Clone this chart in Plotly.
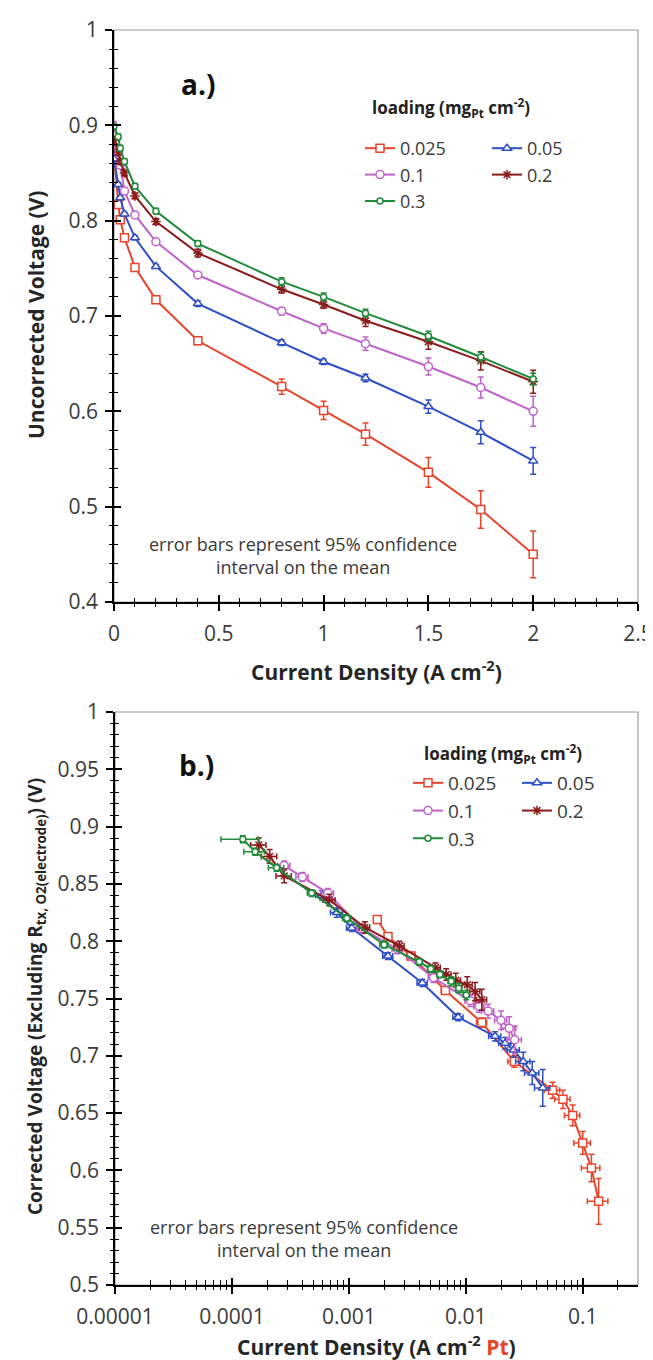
import plotly.graph_objects as go

# ---------------- data: panel a (uncorrected voltage vs geometric current density)
current_a = [0, 0.02, 0.03, 0.05, 0.1, 0.2, 0.4, 0.8, 1.0, 1.2, 1.5, 1.75, 2.0]
v_a_0025 = [0.874, 0.817, 0.801, 0.782, 0.751, 0.717, 0.674, 0.626, 0.601, 0.576, 0.536, 0.497, 0.450]
v_a_005 = [0.865, 0.838, 0.824, 0.807, 0.782, 0.752, 0.713, 0.672, 0.652, 0.635, 0.605, 0.578, 0.548]
v_a_01 = [0.889, 0.872, 0.858, 0.831, 0.806, 0.778, 0.743, 0.705, 0.687, 0.671, 0.647, 0.625, 0.600]
v_a_02 = [0.884, 0.872, 0.862, 0.850, 0.826, 0.799, 0.766, 0.728, 0.712, 0.695, 0.673, 0.653, 0.631]
v_a_03 = [0.899, 0.888, 0.876, 0.862, 0.836, 0.810, 0.776, 0.736, 0.720, 0.703, 0.679, 0.657, 0.634]
err_a_0025 = [0.004, 0.003, 0.003, 0.003, 0.003, 0.003, 0.004, 0.008, 0.0096, 0.0117, 0.0157, 0.0196, 0.0245]
err_a_005 = [0.003, 0.002, 0.002, 0.002, 0.002, 0.002, 0.003, 0.003, 0.003, 0.004, 0.007, 0.012, 0.014]
err_a_01 = [0.015, 0.003, 0.003, 0.003, 0.003, 0.003, 0.003, 0.004, 0.005, 0.007, 0.009, 0.011, 0.0157]
err_a_02 = [0.004, 0.003, 0.003, 0.003, 0.003, 0.003, 0.004, 0.004, 0.004, 0.006, 0.008, 0.0096, 0.012]
err_a_03 = [0.003, 0.003, 0.003, 0.003, 0.003, 0.003, 0.003, 0.004, 0.004, 0.004, 0.005, 0.005, 0.006]

# ---------------- data: panel b (corrected voltage vs Pt-specific current density)
x_b_0025 = [1.75e-3, 2.16e-3, 3.4e-3, 6.7e-3, 0.0137, 0.0260, 0.0552, 0.0677, 0.082, 0.100, 0.1187, 0.1368]
v_b_0025 = [0.819, 0.804, 0.787, 0.757, 0.729, 0.695, 0.670, 0.662, 0.648, 0.624, 0.602, 0.573]
x_b_005 = [5.9e-4, 7.9e-4, 1.06e-3, 2.16e-3, 4.25e-3, 8.6e-3, 0.0178, 0.0217, 0.0256, 0.0310, 0.0370, 0.0455]
v_b_005 = [0.840, 0.825, 0.8115, 0.787, 0.7635, 0.7336, 0.717, 0.711, 0.705, 0.695, 0.685, 0.672]
x_b_01 = [2.8e-4, 4.0e-4, 6.6e-4, 1.3e-3, 2.6e-3, 5.3e-3, 0.0109, 0.0130, 0.0155, 0.0200, 0.0235, 0.0262]
v_b_01 = [0.866, 0.856, 0.842, 0.811, 0.793, 0.768, 0.748, 0.743, 0.739, 0.731, 0.724, 0.714]
x_b_02 = [1.7e-4, 2.1e-4, 2.8e-4, 6.8e-4, 1.37e-3, 2.7e-3, 5.5e-3, 6.8e-3, 8.2e-3, 0.0103, 0.0120, 0.0137]
v_b_02 = [0.884, 0.874, 0.857, 0.836, 0.812, 0.796, 0.777, 0.771, 0.766, 0.762, 0.756, 0.749]
x_b_03 = [1.24e-4, 1.58e-4, 2.41e-4, 4.8e-4, 9.6e-4, 2.0e-3, 4.0e-3, 5.0e-3, 6.0e-3, 7.5e-3, 8.7e-3, 0.0101]
v_b_03 = [0.889, 0.878, 0.864, 0.842, 0.820, 0.797, 0.782, 0.776, 0.771, 0.765, 0.759, 0.753]
# vertical error (V)
ey_b_0025 = [0.003, 0.003, 0.003, 0.003, 0.004, 0.005, 0.007, 0.008, 0.009, 0.010, 0.012, 0.020]
ey_b_005 = [0.004, 0.004, 0.003, 0.003, 0.003, 0.003, 0.004, 0.005, 0.006, 0.008, 0.010, 0.016]
ey_b_01 = [0.004, 0.004, 0.004, 0.004, 0.004, 0.004, 0.005, 0.005, 0.006, 0.008, 0.010, 0.012]
ey_b_02 = [0.006, 0.006, 0.006, 0.005, 0.005, 0.004, 0.004, 0.005, 0.006, 0.007, 0.008, 0.009]
ey_b_03 = [0.003, 0.003, 0.003, 0.003, 0.003, 0.003, 0.003, 0.003, 0.003, 0.004, 0.004, 0.004]
# horizontal error, as a fraction of the current density
exf_b_0025 = [0.06, 0.06, 0.08, 0.08, 0.10, 0.12, 0.15, 0.15, 0.15, 0.16, 0.18, 0.20]
exf_b_005 = [0.12, 0.12, 0.10, 0.10, 0.10, 0.10, 0.12, 0.12, 0.12, 0.14, 0.14, 0.15]
exf_b_01 = [0.12, 0.12, 0.12, 0.10, 0.10, 0.10, 0.10, 0.10, 0.12, 0.12, 0.14, 0.14]
exf_b_02 = [0.15, 0.15, 0.15, 0.12, 0.10, 0.10, 0.10, 0.10, 0.10, 0.10, 0.10, 0.10]
exf_b_03 = [0.35, 0.20, 0.15, 0.08, 0.08, 0.08, 0.06, 0.06, 0.06, 0.06, 0.06, 0.06]

loadings = ["0.025", "0.05", "0.1", "0.2", "0.3"]
x_ticks_a = [0, 0.5, 1, 1.5, 2, 2.5]
x_ticktext_a = ["0", "0.5", "1", "1.5", "2", "2.5"]
y_ticks_a = [0.4, 0.5, 0.6, 0.7, 0.8, 0.9, 1.0]
y_ticktext_a = ["0.4", "0.5", "0.6", "0.7", "0.8", "0.9", "1"]
x_ticks_b = [1e-5, 1e-4, 1e-3, 1e-2, 1e-1]
x_ticktext_b = ["0.00001", "0.0001", "0.001", "0.01", "0.1"]
y_ticks_b = [0.5, 0.55, 0.6, 0.65, 0.7, 0.75, 0.8, 0.85, 0.9, 0.95, 1.0]
y_ticktext_b = ["0.5", "0.55", "0.6", "0.65", "0.7", "0.75", "0.8", "0.85", "0.9", "0.95", "1"]

# ---------------- styling
F = "Open Sans"
W, H = 653, 1360
TICKC = "#3a3a3a"
TITLEC = "#262626"
RED, BLUE, PINK, BROWN, GREEN = "#E8442C", "#2F4EC4", "#C062C8", "#8B1C1C", "#1F8B3A"
colors = [RED, BLUE, PINK, BROWN, GREEN]
symbols = ["square", "triangle-up", "circle", "asterisk-open", "circle"]
mfill = ["white", "white", "white", BROWN, "white"]
msizes = [8, 8, 8, 8, 6]
mlw = [1.5, 1.5, 1.5, 1.5, 1.5]


def px(x):
    return x / W


def py(y):
    return 1 - y / H


fig = go.Figure()

series_a = [v_a_0025, v_a_005, v_a_01, v_a_02, v_a_03]
errs_a = [err_a_0025, err_a_005, err_a_01, err_a_02, err_a_03]
leg_a = ["legend", "legend2", "legend", "legend2", "legend"]
for i in range(5):
    fig.add_trace(go.Scatter(
        x=current_a, y=series_a[i], name=loadings[i], mode="lines+markers",
        xaxis="x", yaxis="y", legend=leg_a[i],
        line=dict(color=colors[i], width=2),
        marker=dict(symbol=symbols[i], size=msizes[i], color=mfill[i],
                    line=dict(color=colors[i], width=mlw[i])),
        error_y=dict(type="data", array=errs_a[i], color=colors[i], thickness=1.5, width=3),
    ))

xs_b = [x_b_0025, x_b_005, x_b_01, x_b_02, x_b_03]
vs_b = [v_b_0025, v_b_005, v_b_01, v_b_02, v_b_03]
eys_b = [ey_b_0025, ey_b_005, ey_b_01, ey_b_02, ey_b_03]
exfs_b = [exf_b_0025, exf_b_005, exf_b_01, exf_b_02, exf_b_03]
leg_b = ["legend3", "legend4", "legend3", "legend4", "legend3"]
for i in range(5):
    fig.add_trace(go.Scatter(
        x=xs_b[i], y=vs_b[i], name=loadings[i], mode="lines+markers",
        xaxis="x2", yaxis="y2", legend=leg_b[i],
        line=dict(color=colors[i], width=2),
        marker=dict(symbol=symbols[i], size=msizes[i], color=mfill[i],
                    line=dict(color=colors[i], width=mlw[i])),
        error_y=dict(type="data", array=eys_b[i], color=colors[i], thickness=1.5, width=3),
        error_x=dict(type="data", array=[f * x for f, x in zip(exfs_b[i], xs_b[i])],
                     color=colors[i], thickness=1.5, width=3),
    ))

# dummy traces so the overlay (inside-tick) axes get drawn
fig.add_trace(go.Scatter(x=[None], y=[None], xaxis="x3", yaxis="y3", showlegend=False, hoverinfo="skip"))
fig.add_trace(go.Scatter(x=[None], y=[None], xaxis="x4", yaxis="y4", showlegend=False, hoverinfo="skip"))

dom_xa = [px(106), px(630)]
dom_ya = [py(594), py(22)]
dom_xb = [px(107), px(630)]
dom_yb = [py(1277), py(704)]
XR_B = [-5, -0.5275]

tickfont = dict(family=F, size=21, color=TICKC)
common = dict(showgrid=False, zeroline=False, tickcolor="black", tickwidth=1.5, ticklen=7,
              automargin=False)

fig.update_layout(
    width=W, height=H, autosize=False,
    margin=dict(l=0, r=0, t=0, b=0, pad=0),
    paper_bgcolor="white", plot_bgcolor="white",
    font=dict(family=F, color=TICKC),
    xaxis=dict(domain=dom_xa, anchor="y", range=[0, 2.5], tickmode="array",
               tickvals=x_ticks_a, ticktext=x_ticktext_a, ticks="outside",
               showline=True, linecolor="black", linewidth=1.5, tickfont=tickfont,
               ticklabelstandoff=5,
               minor=dict(dtick=0.1, tick0=0, ticks="outside", ticklen=3, tickwidth=1.2, tickcolor="black"),
               **common),
    yaxis=dict(domain=dom_ya, anchor="x", range=[0.4, 1.0], tickmode="array",
               tickvals=y_ticks_a, ticktext=y_ticktext_a, ticks="outside",
               showline=True, linecolor="black", linewidth=1.5, tickfont=tickfont,
               ticklabelstandoff=3,
               minor=dict(dtick=0.02, tick0=0.4, ticks="outside", ticklen=3, tickwidth=1.2, tickcolor="black"),
               **common),
    xaxis3=dict(overlaying="x", anchor="y", range=[0, 2.5], tickmode="array",
                tickvals=x_ticks_a, ticks="inside", showticklabels=False, showline=False,
                minor=dict(dtick=0.1, tick0=0, ticks="inside", ticklen=4, tickwidth=1.2, tickcolor="black"),
                **common),
    yaxis3=dict(overlaying="y", anchor="x", range=[0.4, 1.0], tickmode="array",
                tickvals=y_ticks_a, ticks="inside", showticklabels=False, showline=False,
                minor=dict(dtick=0.02, tick0=0.4, ticks="inside", ticklen=4, tickwidth=1.2, tickcolor="black"),
                **common),
    xaxis2=dict(domain=dom_xb, anchor="y2", type="log", range=XR_B, tickmode="array",
                tickvals=x_ticks_b, ticktext=x_ticktext_b, ticks="outside",
                showline=True, linecolor="black", linewidth=1.5, tickfont=tickfont,
                ticklabelstandoff=5,
                minor=dict(dtick="D1", ticks="outside", ticklen=3, tickwidth=1.2, tickcolor="black"),
                **common),
    yaxis2=dict(domain=dom_yb, anchor="x2", range=[0.5, 1.0], tickmode="array",
                tickvals=y_ticks_b, ticktext=y_ticktext_b, ticks="outside",
                showline=True, linecolor="black", linewidth=1.5, tickfont=tickfont,
                ticklabelstandoff=3,
                minor=dict(dtick=0.01, tick0=0.5, ticks="outside", ticklen=3, tickwidth=1.2, tickcolor="black"),
                **common),
    xaxis4=dict(overlaying="x2", anchor="y2", type="log", range=XR_B, tickmode="array",
                tickvals=x_ticks_b, ticks="inside", showticklabels=False, showline=False,
                minor=dict(dtick="D1", ticks="inside", ticklen=5, tickwidth=1.2, tickcolor="black"),
                **common),
    yaxis4=dict(overlaying="y2", anchor="x2", range=[0.5, 1.0], tickmode="array",
                tickvals=y_ticks_b, ticks="inside", showticklabels=False, showline=False,
                minor=dict(dtick=0.01, tick0=0.5, ticks="inside", ticklen=4, tickwidth=1.2, tickcolor="black"),
                **common),
)

legfont_a = dict(family=F, size=18, color=TICKC)
legfont_b = dict(family=F, size=19, color=TICKC)
legbase = dict(xanchor="left", yanchor="top", bgcolor="rgba(0,0,0,0)", borderwidth=0,
               itemwidth=30, tracegroupgap=0, traceorder="normal")
fig.update_layout(
    legend=dict(x=px(352), y=py(122), font=legfont_a, **legbase),
    legend2=dict(x=px(479), y=py(122), font=legfont_a, **legbase),
    legend3=dict(x=px(400), y=py(756), font=legfont_b, **legbase),
    legend4=dict(x=px(509), y=py(756), font=legfont_b, **legbase),
)

# plot-area border (grey top/right)
for xr, yr in [("x", "y"), ("x2", "y2")]:
    fig.add_shape(type="rect", xref=f"{xr} domain", yref=f"{yr} domain", x0=0, x1=1, y0=0, y1=1,
                  line=dict(color="#9a9a9a", width=1.2), layer="below")

ann = []
ann.append(dict(text="<b>a.)</b>", x=px(190), y=py(76), font=dict(family=F, size=28, color="#111")))
ann.append(dict(text="<b>b.)</b>", x=px(188), y=py(757), font=dict(family=F, size=28, color="#111")))
ann.append(dict(text="<b>loading (mg<sub>Pt</sub> cm<sup>-2</sup>)</b>", x=px(362), y=py(100),
                xanchor="left", font=dict(family=F, size=17, color="#222")))
ann.append(dict(text="<b>loading (mg<sub>Pt</sub> cm<sup>-2</sup>)</b>", x=px(414), y=py(745),
                xanchor="left", font=dict(family=F, size=17, color="#222")))
ann.append(dict(text="error bars represent 95% confidence<br>interval on the mean", x=px(295), y=py(547),
                font=dict(family=F, size=18, color=TICKC)))
ann.append(dict(text="error bars represent 95% confidence<br>interval on the mean", x=px(296), y=py(1230),
                font=dict(family=F, size=18, color=TICKC)))
ann.append(dict(text="<b>Current Density (A cm<sup>-2</sup>)</b>", x=px(368), y=py(662),
                font=dict(family=F, size=21, color=TITLEC)))
ann.append(dict(text="<b>Current Density (A cm<sup>-2</sup> <span style='color:#E8442C'>Pt</span>)</b>",
                x=px(368), y=py(1337), font=dict(family=F, size=21, color=TITLEC)))
ann.append(dict(text="<b>Uncorrected Voltage (V)</b>", x=px(28), y=py(307), textangle=-90,
                font=dict(family=F, size=21, color=TITLEC)))
ann.append(dict(text="<b>Corrected Voltage (Excluding R<sub>tx, O2(electrode)</sub>) (V)</b>",
                x=px(28), y=py(989), textangle=-90, font=dict(family=F, size=19, color=TITLEC)))
for a in ann:
    a.update(xref="paper", yref="paper", showarrow=False)
    a.setdefault("xanchor", "center")
    a.setdefault("yanchor", "middle")
fig.update_layout(annotations=ann)

fig.write_html("out.html")
